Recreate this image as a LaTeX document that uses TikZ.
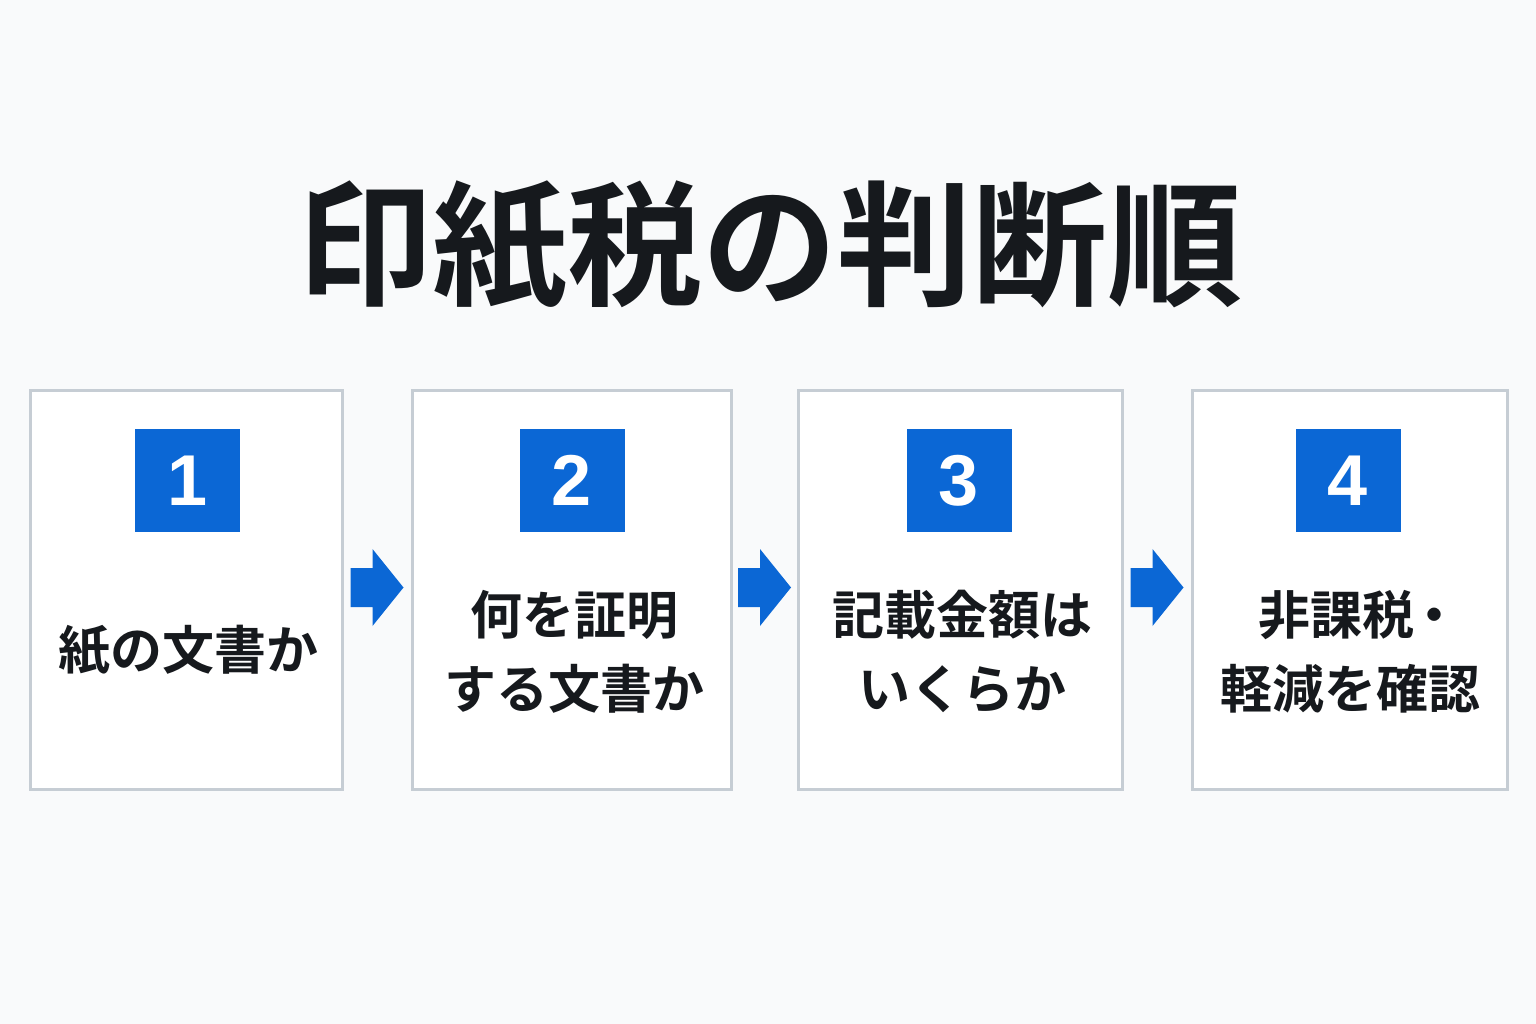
\documentclass[tikz,border=0pt]{standalone}
\usepackage{fontspec}
\newfontfamily\jpbold{Noto Sans CJK JP Bold}
\newfontfamily\numfont{Liberation Sans Bold}
\usetikzlibrary{calc}
\definecolor{bgc}{HTML}{F9FAFB}
\definecolor{boxline}{HTML}{C6CDD4}
\definecolor{bluec}{HTML}{0B67D5}
\definecolor{inkc}{HTML}{16191D}
\tikzset{
  stepbox/.style={draw=boxline, line width=3pt, fill=white, inner sep=0pt},
  numbox/.style={fill=bluec, minimum width=105pt, minimum height=103pt, inner sep=0pt,
     text=white, font=\numfont\fontsize{72}{72}\selectfont},
  steptext/.style={text=inkc, align=center, font=\jpbold\fontsize{52}{74}\selectfont, inner sep=0pt},
  arrowfill/.style={fill=bluec, draw=none},
}
\begin{document}
\begin{tikzpicture}[x=1pt,y=-1pt]
\fill[bgc] (0,0) rectangle (1536,1024);
\useasboundingbox (0,0) rectangle (1536,1024);
\node[text=inkc, font=\jpbold\fontsize{135}{135}\selectfont, inner sep=0pt] (title) at (770,246) {印紙税の判断順};
% boxes
\node[stepbox, minimum width=312pt, minimum height=399pt] (b1) at (186,589.5) {};
\node[stepbox, minimum width=319pt, minimum height=399pt] (b2) at (571.5,589.5) {};
\node[stepbox, minimum width=324pt, minimum height=399pt] (b3) at (960,589.5) {};
\node[stepbox, minimum width=315pt, minimum height=399pt] (b4) at (1349.5,589.5) {};
% numbers
\node[numbox] (n1) at (187.5,480.5) {1};
\node[numbox] (n2) at (572,480.5) {2};
\node[numbox] (n3) at (959,480.5) {3};
\node[numbox] (n4) at (1348,480.5) {4};
% texts
\node[steptext] (t1) at (188,650) {紙の文書か};
\node[steptext] (t2) at (574,652) {何を証明\\する文書か};
\node[steptext] (t3) at (962,652) {記載金額は\\いくらか};
\node[steptext] (t4) at (1350,652) {非課税\kern-6pt・\kern-18pt\\軽減を確認};
% arrows
\foreach \a/\b/\n in {b1/b2/a1, b2/b3/a2, b3/b4/a3}{
  \coordinate (\n) at ($(\a.east)!0.5!(\b.west)+(0,-2)$);
  \fill[arrowfill] (\n) ++(-26.5,-19.5) -- ++(22,0) -- ++(0,-19) -- ++(31,38.5)
     -- ++(-31,38.5) -- ++(0,-19) -- ++(-22,0) -- cycle;
}
\end{tikzpicture}
\end{document}
